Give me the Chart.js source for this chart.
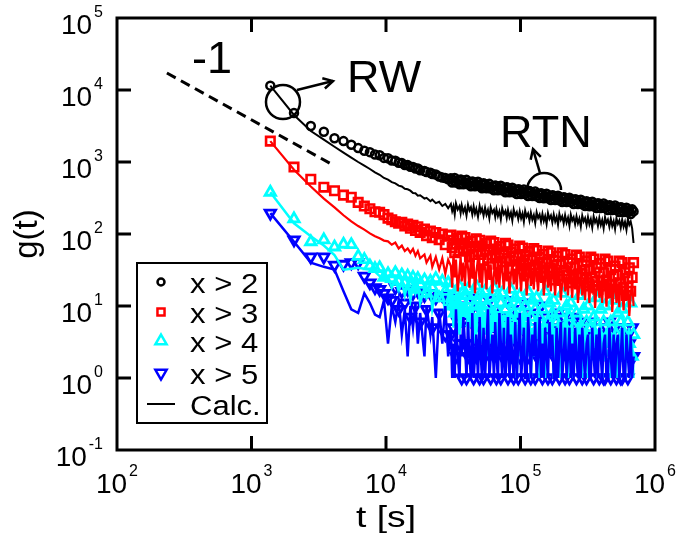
<!DOCTYPE html>
<html><head><meta charset="utf-8">
<script src="https://cdn.jsdelivr.net/npm/chart.js@4.4.1/dist/chart.umd.min.js"></script>
<style>html,body{margin:0;padding:0;background:#fff;}#c{display:block;}</style>
</head><body>
<canvas id="c" width="677" height="549"></canvas>
<script>
// time axis (s)
const tSec = [
 1380, 2070, 2760, 3450, 4140, 4830, 5520, 6210, 6900, 7590,
 8280, 8970, 9660, 10350, 11040, 11730, 12420, 13110, 13800, 14490,
 15180, 15870, 16560, 17250, 17940, 19320, 20010, 21390, 22080, 23460,
 24840, 26220, 27600, 28980,
 30360, 31050, 31740, 32430, 33120, 34150, 35190, 35880, 36570, 37600,
 38640, 39670, 40710, 41740, 42780, 43810, 44850, 45880, 46920, 48300,
 49680, 50710, 51750, 53130, 54510, 55890, 57270, 58650, 60030, 61750,
 63480, 64860, 66240, 67960, 69690, 71410, 73140, 75210, 77280, 79000,
 80730, 82800, 84870, 86940, 89010, 91420, 93840, 96250, 98670, 101080,
 103500, 105900, 108330, 111090, 113850, 116610, 119370, 122470, 125580, 128680,
 131790, 135240, 138690, 142140, 145590, 149040, 152490, 156280, 160080, 164220,
 168360, 172500, 176640, 181120, 185610, 190090, 194580, 199410, 204240, 209410,
 214590, 220110, 225630, 231150, 236670, 242530, 248400, 254610, 260820, 267370,
 273930, 280830, 287730, 294970, 302220, 309810, 317400, 325330, 333270, 341550,
 349830, 358450, 367080, 376390, 385710, 395370, 405030, 415030, 425040, 435730,
 446430, 457810, 469200, 480930, 492660, 504730, 516810, 529920, 543030, 556480,
 569940, 584080, 598230, 613410, 628590, 644110, 659640, 676200, 692760];
// measured g(t), x > 2
const circ2 = [
 11500, 4790, 3160, 2630, 2140, 1950, 1740, 1560, 1430, 1370,
 1270, 1240, 1140, 1130, 1050, 1040, 975, 965, 910, 905,
 860, 855, 810, 815, 770, 750, 725, 710, 680, 670,
 630, 610, 600, 575,
 596, 519, 554, 600, 519, 558, 490, 571, 562, 489,
 522, 565, 489, 526, 461, 538, 529, 460, 491, 531,
 459, 493, 433, 505, 496, 432, 460, 497, 429, 461,
 404, 472, 463, 404, 431, 467, 404, 435, 381, 445,
 438, 381, 407, 440, 381, 410, 359, 419, 412, 359,
 383, 414, 358, 385, 338, 394, 387, 337, 359, 388,
 335, 361, 316, 368, 360, 314, 335, 363, 314, 338,
 297, 346, 340, 296, 316, 341, 295, 318, 278, 325,
 319, 278, 297, 320, 277, 298, 261, 305, 299, 260,
 277, 300, 259, 278, 244, 284, 279, 243, 259, 280,
 243, 262, 229, 268, 263, 229, 244, 265, 229, 246,
 216, 251, 247, 215, 230, 249, 215, 231, 202, 236,
 232, 202, 215, 232, 201, 216, 189, 220, 206];
// measured g(t), x > 3
const sq3 = [
 1950, 850, 575, 447, 398, 347, 324, 275, 245, 224,
 204, 200, 186, 166, 158, 148, 141, 145, 129, 138,
 120, 132, 112, 126, 105, 117, 95, 110, 89, 105,
 83, 100, 71, 95,
 97, 65, 82, 55, 73, 88, 58, 73, 94, 63,
 89, 58, 75, 48, 66, 80, 52, 67, 86, 57,
 82, 52, 68, 43, 60, 74, 46, 60, 80, 51,
 76, 47, 62, 38, 54, 67, 41, 55, 74, 46,
 70, 42, 56, 33, 49, 62, 36, 50, 68, 41,
 64, 37, 51, 30, 44, 57, 32, 45, 63, 37,
 59, 33, 47, 26, 40, 52, 29, 41, 58, 34,
 55, 30, 43, 23, 37, 49, 26, 38, 55, 31,
 52, 27, 40, 21, 34, 45, 24, 35, 51, 28,
 48, 25, 37, 19, 31, 42, 21, 32, 48, 25,
 45, 22, 34, 17, 29, 39, 19, 29, 45, 23,
 42, 20, 32, 15, 26, 36, 17, 27, 42, 21,
 40, 18, 29, 14, 24, 34, 16, 25, 40];
// measured g(t), x > 4
const tri4 = [
 380, 162, 78, 83, 66, 72, 71, 49, 44, 36,
 33, 34, 25, 28, 24, 29, 22, 27, 21, 26,
 19, 25, 17, 24, 20, 23, 15, 22, 18, 24,
 13, 22, 16, 21,
 18, 10, 14, 8, 15, 11, 19, 8, 12, 16,
 8, 14, 17, 8, 12, 6, 14, 10, 19, 6,
 10, 15, 7, 12, 16, 7, 10, 5, 13, 8,
 18, 5, 9, 14, 6, 11, 15, 6, 9, 4,
 11, 7, 17, 4, 8, 13, 5, 10, 14, 5,
 8, 3, 10, 6, 16, 3, 7, 12, 4, 9,
 13, 4, 7, 3, 9, 5, 16, 3, 6, 11,
 3, 8, 12, 3, 6, 3, 8, 4, 15, 3,
 5, 10, 3, 7, 11, 3, 5, 2, 8, 4,
 14, 3, 4, 9, 2, 6, 10, 3, 5, 2,
 7, 3, 13, 2, 4, 9, 3, 6, 10, 2,
 4, 2, 6, 3, 12, 2, 4, 8, 3, 6,
 9, 2, 4, 2, 6, 3, 11, 2, 4];
// measured g(t), x > 5
const tri5 = [
 195, 83, 48, 48, 37, 38, 40, 40, 26, 21,
 18, 17, 15, 13, 12, 18, 9, 16, 11, 17,
 7, 15, 10, 16, 6, 14, 9, 15, 5, 13,
 8, 14, 4, 12,
 4, 10, 5, 13, 2, 6, 3, 10, 1, 6,
 3, 1, 2, 8, 3, 13, 1, 5, 2, 10,
 1, 6, 3, 1, 2, 7, 3, 12, 1, 4,
 2, 9, 1, 6, 3, 1, 2, 7, 3, 12,
 1, 4, 2, 9, 1, 6, 3, 1, 2, 7,
 3, 11, 1, 4, 2, 8, 1, 5, 3, 1,
 2, 7, 3, 10, 1, 4, 2, 7, 1, 5,
 3, 1, 2, 6, 3, 8, 1, 4, 2, 7,
 1, 5, 2, 1, 2, 6, 3, 7, 1, 4,
 2, 6, 1, 4, 2, 1, 2, 5, 3, 6,
 1, 3, 2, 5, 1, 4, 2, 1, 1, 5,
 2, 6, 1, 3, 2, 5, 1, 4, 2, 1,
 1, 4, 2, 5, 1, 3, 2, 5, 2];
// calculated g(t)
const calc2 = [
 11500, 4500, 2690, 2040, 1630, 1350, 1150, 1000, 890, 800,
 720, 665, 600, 570, 525, 505, 470, 458, 425, 418,
 400, 370, 368, 340, 345, 310, 318, 285, 300, 268,
 280, 245, 262, 228,
 261, 208, 242, 187, 266, 219, 244, 195, 251, 200,
 233, 180, 255, 212, 235, 187, 241, 192, 224, 173,
 245, 203, 226, 180, 232, 185, 215, 166, 236, 196,
 217, 173, 223, 178, 207, 160, 227, 188, 209, 167,
 215, 171, 199, 154, 219, 181, 201, 161, 207, 165,
 192, 148, 210, 174, 193, 154, 198, 158, 183, 142,
 201, 167, 186, 148, 190, 152, 177, 138, 195, 162,
 180, 145, 186, 149, 173, 134, 190, 158, 176, 140,
 182, 144, 169, 130, 185, 154, 171, 137, 176, 141,
 164, 127, 180, 149, 166, 133, 172, 136, 160, 123,
 176, 145, 162, 129, 167, 133, 156, 120, 171, 142,
 158, 126, 163, 129, 151, 117, 166, 138, 154, 122,
 158, 126, 147, 114, 162, 134, 149, 120, 75];
const calc3 = [
 1950, 780, 457, 310, 234, 182, 150, 129, 115, 102,
 93, 87, 81, 79, 71, 76, 63, 69, 58, 63,
 55, 62, 50, 58, 46, 52, 40, 50, 35, 48,
 32, 46, 28, 44,
 36, 18, 54, 25, 44, 16, 31, 49, 22, 40,
 19, 55, 34, 18, 50, 24, 41, 15, 29, 46,
 21, 37, 18, 51, 33, 17, 47, 23, 38, 15,
 28, 43, 20, 35, 18, 47, 31, 17, 44, 22,
 36, 15, 27, 40, 20, 33, 17, 44, 29, 16,
 40, 22, 34, 14, 25, 37, 19, 31, 17, 40,
 27, 16, 38, 21, 32, 14, 24, 35, 18, 29,
 16, 38, 25, 14, 35, 19, 29, 12, 21, 32,
 16, 26, 14, 35, 23, 13, 32, 17, 27, 11,
 19, 29, 14, 24, 12, 32, 21, 11, 30, 15,
 24, 9.4, 18, 27, 13, 22, 11, 30, 19, 9.8,
 28, 13, 22, 8.3, 16, 25, 11, 20, 9.6, 28,
 17, 8.7, 25, 12, 21, 7.3, 14, 23, 10];
const calc4 = [
 380, 141, 93, 69, 51, 32, 33, 34, 33, 32,
 30, 26, 23, 26, 18, 24, 16, 22, 14, 21,
 12, 20, 15, 19, 11, 18, 13, 17, 9, 16,
 12, 15, 8, 14,
 9, 15, 5, 11, 6, 13, 4, 9, 5, 11,
 7, 14, 4, 9, 5, 12, 3, 8, 4, 10,
 6, 13, 3, 8, 4, 10, 2, 7, 3, 9,
 5, 12, 2, 7, 3, 10, 2, 6, 3, 8,
 4, 11, 2, 6, 3, 9, 1, 5, 2, 8,
 4, 10, 2, 6, 2, 8, 1, 5, 2, 7,
 4, 10, 1, 5, 2, 7, 1, 4, 2, 6,
 3, 9, 1, 5, 2, 7, 1, 4, 2, 6,
 3, 9, 1, 5, 2, 7, 1, 4, 2, 6,
 3, 8, 1, 5, 2, 6, 1, 4, 2, 6,
 3, 8, 1, 4, 2, 6, 1, 4, 2, 5,
 3, 7, 1, 4, 2, 6, 1, 3, 1, 5,
 3, 7, 1, 4, 2, 5, 1, 3, 1];
const calc5 = [
 195, 78, 40, 35, 32, 16, 9, 8, 15, 11,
 7.6, 7, 12, 3, 10, 6, 12, 4, 9, 2,
 10, 5, 11, 3, 8, 2, 10, 4, 7, 1,
 9, 3, 10, 2,
 5, 1, 3, 1, 9, 2, 1, 4, 2, 7,
 3, 1, 6, 2, 1, 8, 1, 2, 4, 1,
 7, 2, 1, 5, 1, 3, 9, 1, 2, 4,
 1, 6, 2, 1, 8, 3, 1, 5, 1, 2,
 7, 1, 4, 2, 1, 6, 1, 3, 8, 1,
 2, 5, 1, 1, 7, 3, 1, 4, 2, 6,
 1, 2, 7, 1, 3, 1, 5, 2, 1, 6,
 2, 4, 1, 1, 5, 1, 3, 6, 1, 2,
 5, 1, 2, 5, 1, 3, 1, 5, 2, 1,
 4, 1, 5, 2, 1, 3, 4, 1, 1, 5,
 2, 1, 4, 1, 5, 2, 1, 3, 4, 1,
 1, 5, 2, 1, 4, 1, 3, 4, 1, 2,
 5, 1, 1, 4, 2, 1, 4, 1, 2];
// slope -1 guide
const slopeT = [235, 4040];
const slopeG = [17200, 908];
// axis decades
const xTicks = [100, 1000, 10000, 100000, 1000000];
const yTicks = [0.1, 1, 10, 100, 1000, 10000, 100000];
const legendLabels = ['x > 2', 'x > 3', 'x > 4', 'x > 5', 'Calc.'];
// annotation anchors (data units)
const annRW = {t: 1714, g: 6810, label: 'RW'};
const annRTN = {t: 149600, g: 408, label: 'RTN'};
const slopeLabel = '-1';

const FONT = '"Liberation Sans", Arial, Helvetica, sans-serif';
const pts = ys => tSec.map((t, i) => ({x: t, y: ys[i]}));

const mk = (ys, color, style, radius, bw, order, rot) => ({
  data: pts(ys), showLine: false, pointStyle: style, pointRadius: radius,
  pointRotation: rot || 0, borderColor: color, pointBorderColor: color,
  pointBackgroundColor: 'rgba(0,0,0,0)', pointBorderWidth: bw, order
});
const ln = (ys, color, w, order) => ({
  data: pts(ys), showLine: true, borderColor: color, borderWidth: w,
  pointRadius: 0, fill: false, tension: 0, order
});

const overlay = {
  id: 'overlay',
  afterDatasetsDraw(chart) {
    const ctx = chart.ctx, a = chart.chartArea, xs = chart.scales.x, ys = chart.scales.y;
    ctx.save();
    ctx.strokeStyle = '#000'; ctx.fillStyle = '#000';
    ctx.lineWidth = 3;
    ctx.strokeRect(a.left, a.top, a.right - a.left, a.bottom - a.top);
    const TL = 14;
    ctx.beginPath();
    xTicks.forEach(v => {
      const p = xs.getPixelForValue(v);
      if (p <= a.left + 2 || p >= a.right - 2) return;
      ctx.moveTo(p, a.bottom); ctx.lineTo(p, a.bottom - TL);
      ctx.moveTo(p, a.top); ctx.lineTo(p, a.top + TL);
    });
    yTicks.forEach(v => {
      const p = ys.getPixelForValue(v);
      if (p <= a.top + 2 || p >= a.bottom - 2) return;
      ctx.moveTo(a.left, p); ctx.lineTo(a.left + TL, p);
      ctx.moveTo(a.right, p); ctx.lineTo(a.right - TL, p);
    });
    ctx.stroke();

    function drawPow(exp, x, y, align) {
      ctx.font = '28px ' + FONT; const w1 = ctx.measureText('10').width;
      ctx.font = '16px ' + FONT; const w2 = ctx.measureText(exp).width;
      const gap = 2, total = w1 + gap + w2;
      const left = align === 'right' ? x - total : x - total / 2;
      ctx.textAlign = 'left'; ctx.textBaseline = 'alphabetic';
      ctx.font = '28px ' + FONT; ctx.fillText('10', left, y);
      ctx.font = '16px ' + FONT; ctx.fillText(exp, left + w1 + gap, y - 17);
    }
    yTicks.forEach(v => {
      const p = ys.getPixelForValue(v);
      drawPow(String(Math.round(Math.log10(v))), a.left - 14, p + 16, 'right');
    });
    xTicks.forEach(v => {
      const p = xs.getPixelForValue(v);
      drawPow(String(Math.round(Math.log10(v))), p, a.bottom + 43, 'center');
    });

    // axis titles
    ctx.font = '29px ' + FONT; ctx.textAlign = 'center'; ctx.textBaseline = 'alphabetic';
    const tw = ctx.measureText('t [s]').width;
    ctx.save(); ctx.translate((a.left + a.right) / 2, a.bottom + 77); ctx.scale(60 / tw, 1);
    ctx.fillText('t [s]', 0, 0); ctx.restore();
    ctx.save(); ctx.font = '33px ' + FONT; ctx.translate(28, (a.top + a.bottom) / 2); ctx.rotate(-Math.PI / 2);
    ctx.textAlign = 'center'; ctx.fillText('g(t)', 0, 9); ctx.restore();

    // legend
    const bx = a.left + 20, by = a.top + 245;
    ctx.fillStyle = '#fff'; ctx.fillRect(bx, by, 130, 160);
    ctx.lineWidth = 2; ctx.strokeStyle = '#000';
    ctx.strokeRect(bx, by, 130, 160);
    const mx = bx + 24;
    const rowsY = [by + 19, by + 49, by + 78, by + 110];
    const styles = [
      {c: '#000', s: 'circle', r: 3.5, rot: 0},
      {c: '#ff0000', s: 'rect', r: 5, rot: 0},
      {c: '#00ffff', s: 'triangle', r: 6.5, rot: 0},
      {c: '#0000ff', s: 'triangle', r: 6.5, rot: 180}
    ];
    styles.forEach((st, i) => {
      ctx.strokeStyle = st.c; ctx.fillStyle = '#fff'; ctx.lineWidth = 2.5;
      Chart.helpers.drawPoint(ctx, {pointStyle: st.s, radius: st.r, rotation: st.rot, borderWidth: 2.5}, mx, rowsY[i]);
    });
    ctx.strokeStyle = '#000'; ctx.lineWidth = 2;
    ctx.beginPath(); ctx.moveTo(bx + 10, by + 141); ctx.lineTo(bx + 38, by + 141); ctx.stroke();
    ctx.fillStyle = '#000'; ctx.font = '27px ' + FONT; ctx.textAlign = 'left';
    const baseY = [by + 30, by + 60, by + 89, by + 121, by + 152];
    legendLabels.forEach((lab, i) => {
      ctx.save(); ctx.translate(bx + 53, baseY[i]); ctx.scale(1.15, 1); ctx.fillText(lab, 0, 0); ctx.restore();
    });

    // annotations
    ctx.strokeStyle = '#000'; ctx.fillStyle = '#000'; ctx.lineWidth = 2.5;
    function arrow(x1, y1, x2, y2) {
      ctx.beginPath(); ctx.moveTo(x1, y1); ctx.lineTo(x2, y2); ctx.stroke();
      const ang = Math.atan2(y2 - y1, x2 - x1), L = 11;
      ctx.beginPath();
      ctx.moveTo(x2 - L * Math.cos(ang - 0.5), y2 - L * Math.sin(ang - 0.5));
      ctx.lineTo(x2, y2);
      ctx.lineTo(x2 - L * Math.cos(ang + 0.5), y2 - L * Math.sin(ang + 0.5));
      ctx.stroke();
    }
    const rx = xs.getPixelForValue(annRW.t), ry = ys.getPixelForValue(annRW.g);
    ctx.beginPath(); ctx.arc(rx, ry, 17, 0, 2 * Math.PI); ctx.stroke();
    arrow(rx + 14, ry - 12, rx + 50, ry - 21);
    ctx.font = '45px ' + FONT; ctx.textAlign = 'left';
    ctx.fillText(annRW.label, rx + 64, ry - 10);
    const qx = xs.getPixelForValue(annRTN.t), qy = ys.getPixelForValue(annRTN.g);
    ctx.beginPath(); ctx.arc(qx, qy, 17, Math.PI, 2 * Math.PI); ctx.stroke();
    arrow(qx - 4, qy - 17, qx - 11, qy - 41);
    ctx.fillText(annRTN.label, qx - 44, qy - 43);
    const sx = xs.getPixelForValue(slopeT[0]), sy = ys.getPixelForValue(slopeG[0]);
    ctx.fillText(slopeLabel, sx + 25, sy);
    ctx.restore();
  }
};

new Chart(document.getElementById('c'), {
  type: 'scatter',
  data: {
    datasets: [
      {data: [{x: slopeT[0], y: slopeG[0]}, {x: slopeT[1], y: slopeG[1]}], showLine: true,
       borderColor: '#000', borderWidth: 3, borderDash: [10, 6], pointRadius: 0, order: 0},
      ln(calc5, '#0000ff', 2.5, 1),
      ln(calc4, '#00ffff', 2.5, 2),
      ln(calc3, '#ff0000', 2.2, 3),
      ln(calc2, '#000000', 2, 4),
      mk(tri5, '#0000ff', 'triangle', 6, 2.8, 6, 180),
      mk(tri4, '#00ffff', 'triangle', 6, 2.8, 5, 0),
      mk(sq3, '#ff0000', 'rect', 6, 2.6, 7, 0),
      mk(circ2, '#000000', 'circle', 4, 2.5, 8, 0)
    ]
  },
  options: {
    responsive: false, animation: false, devicePixelRatio: 1, events: [],
    layout: {padding: {left: 117, right: 22, top: 18, bottom: 99}},
    plugins: {legend: {display: false}, tooltip: {enabled: false}},
    scales: {
      x: {type: 'logarithmic', min: 100, max: 1000000, display: false},
      y: {type: 'logarithmic', min: 0.1, max: 100000, display: false}
    }
  },
  plugins: [overlay]
});
</script>
</body></html>
